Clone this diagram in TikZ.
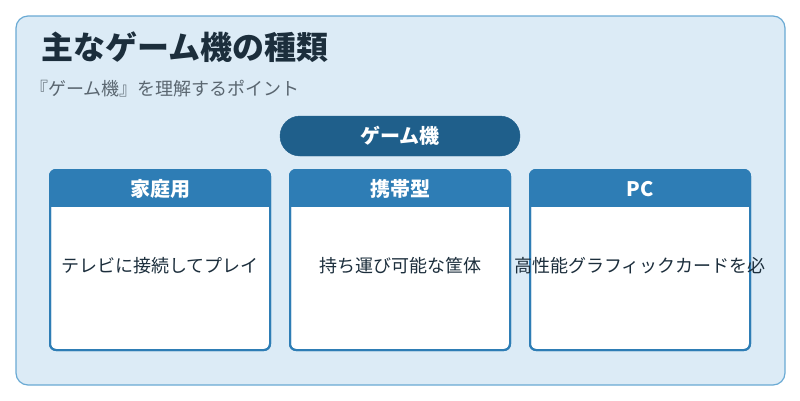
\documentclass[tikz,border=0pt]{standalone}
\usepackage{fontspec}
\setmainfont{Noto Sans CJK JP}
\definecolor{bgc}{HTML}{DCEBF6}
\definecolor{bdc}{HTML}{6AAAD4}
\definecolor{pill}{HTML}{1F5F8B}
\definecolor{hdr}{HTML}{2E7DB5}
\definecolor{ttl}{HTML}{1C2E3C}
\definecolor{sub}{HTML}{5A6670}
\begin{document}
\begin{tikzpicture}[x=1pt,y=-1pt,
  card/.style={draw=hdr,line width=2pt,fill=white,rounded corners=6pt},
  cardtxt/.style={font=\fontsize{18}{21}\selectfont,text=ttl}]
\useasboundingbox (0,0) rectangle (800,400);
\fill[white] (0,0) rectangle (800,400);
\draw[bdc,fill=bgc,line width=1.2pt,rounded corners=12pt] (16,16) rectangle (785,385);
\node[anchor=west,font=\fontsize{32}{36}\selectfont\bfseries,text=ttl,inner sep=0pt] (title) at (41,47) {主なゲーム機の種類};
\node[anchor=west,font=\fontsize{18}{21}\selectfont,text=sub,inner sep=0pt] (subt) at (30,89) {『ゲーム機』を理解するポイント};
\draw[pill,fill=pill,rounded corners=20pt] (280,116) rectangle (520,156);
\node[font=\fontsize{20}{24}\selectfont\bfseries,text=white] (root) at (400,136) {ゲーム機};
\foreach \x/\h/\t/\n in {50/家庭用/テレビに接続してプレイ/a,290/携帯型/持ち運び可能な筐体/b,530/PC/高性能グラフィックカードを必/c}{
  \draw[card] (\x,170) rectangle ++(220,180);
  \begin{scope}
  \clip[rounded corners=6pt] (\x,170) rectangle ++(220,180);
  \fill[hdr] (\x,170) rectangle ++(220,37);
  \end{scope}
  \draw[hdr,line width=2pt,rounded corners=6pt] (\x,170) rectangle ++(220,180);
  \node[font=\fontsize{20}{24}\selectfont\bfseries,text=white] (h\n) at (\x+110,189) {\h};
  \node[cardtxt] (t\n) at (\x+110,266) {\t};
}
\end{tikzpicture}
\end{document}
